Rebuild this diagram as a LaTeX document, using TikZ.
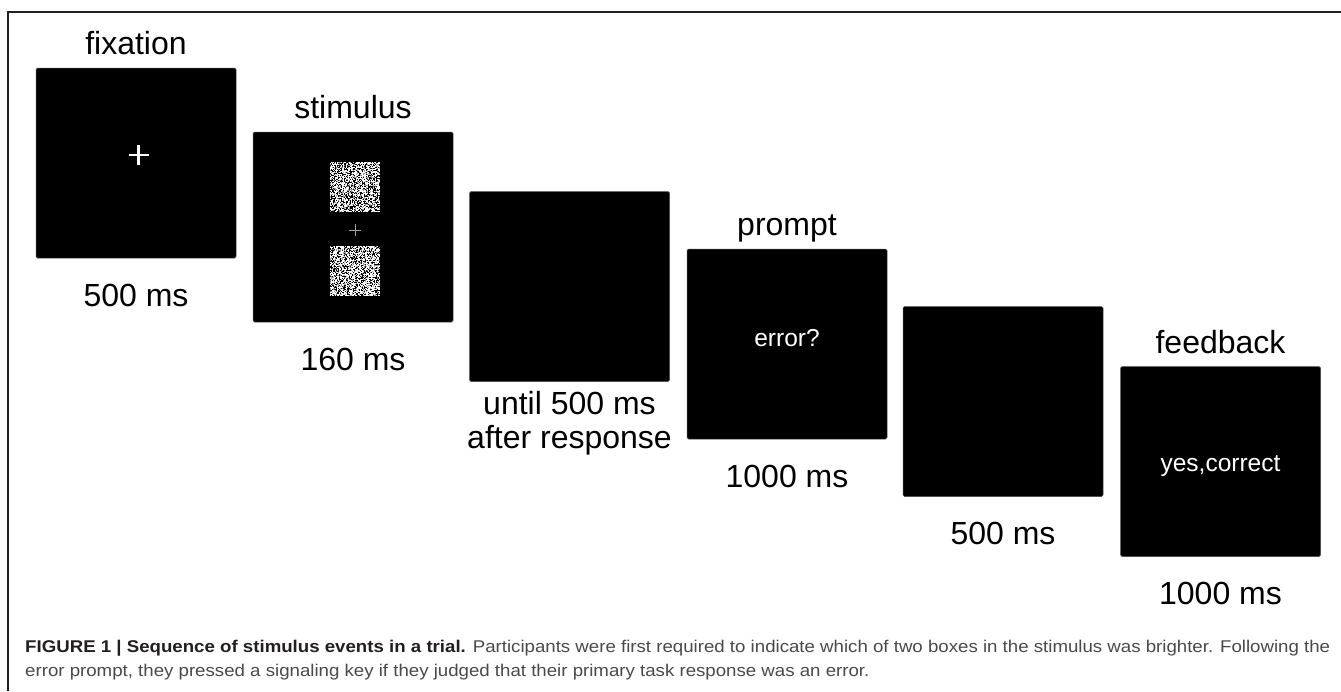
\documentclass[tikz,border=0pt]{standalone}
\usepackage{fontspec}
\setmainfont{Liberation Sans}
\usepackage{graphicx}
\definecolor{framec}{HTML}{231F20}
\definecolor{capc}{HTML}{4A4A4A}
\definecolor{capb}{HTML}{231F20}
\tikzset{
  screen/.style={fill=black, draw=black!70, line width=0.5pt, rounded corners=1.5pt,
    minimum width=200pt, minimum height=190pt, inner sep=0pt},
  ttl/.style={anchor=base, font=\fontsize{32}{34}\selectfont, inner sep=0pt},
  dur/.style={anchor=center, align=center, font=\fontsize{32}{34}\selectfont, inner sep=0pt},
  scrtext/.style={text=white, font=\fontsize{24.5}{28}\selectfont, inner sep=0pt, anchor=base},
  capline/.style={anchor=base west, inner sep=0pt, text=capc, font=\fontsize{17}{20}\selectfont},
}
\begin{document}
\begin{tikzpicture}[x=1pt,y=-1pt]
\useasboundingbox (0,0) rectangle (1341,691);
\fill[white] (0,0) rectangle (1341,691);
% frame
\draw[framec, line width=2pt] (8,691) -- (8,12) -- (1341,12);

% screens
\node[screen] (fix) at (136,163) {};
\node[screen] (stim) at (353,227) {};
\node[screen] (blank) at (569.5,286.5) {};
\node[screen] (prompt) at (787,344) {};
\node[screen] (blank2) at (1003,401.5) {};
\node[screen] (fb) at (1220.5,461.5) {};

% titles
\node[ttl] (tfix) at ([yshift=13pt]fix.north) {fixation};
\node[ttl] (tstim) at ([yshift=13pt]stim.north) {stimulus};
\node[ttl] (tprompt) at ([yshift=13pt]prompt.north) {prompt};
\node[ttl] (tfb) at ([yshift=13pt]fb.north) {feedback};

% durations
\node[dur] (dfix) at ([yshift=-37pt]fix.south) {500 ms};
\node[dur] (dstim) at ([yshift=-37pt]stim.south) {160 ms};
\node[dur] (dblank) at ([yshift=-41pt]blank.south) {until 500 ms\\after response};
\node[dur] (dprompt) at ([yshift=-37pt]prompt.south) {1000 ms};
\node[dur] (dblank2) at ([yshift=-37pt]blank2.south) {500 ms};
\node[dur] (dfb) at ([yshift=-37pt]fb.south) {1000 ms};

% fixation cross
\coordinate (fc) at (138.5,155);
\draw[white, line width=2.6pt] ([xshift=-10pt]fc) -- ([xshift=10pt]fc);
\draw[white, line width=2.6pt] ([yshift=-10pt]fc) -- ([yshift=10pt]fc);

% stimulus noise patches
\pgfmathsetseed{17}
\foreach \ox/\oy in {330/162, 330/246}{
  \foreach \i in {0,...,49}{
    \foreach \j in {0,...,49}{
      \pgfmathsetmacro\r{rnd}
      \ifdim\r pt<0.5pt
        \fill[white] ({\ox+\i},{\oy+\j}) rectangle ++(1.05,1.05);
      \else\ifdim\r pt<0.68pt
        \fill[black!40] ({\ox+\i},{\oy+\j}) rectangle ++(1.05,1.05);
      \fi\fi
    }
  }
}
\coordinate (sc) at (355,230);
\draw[black!35, line width=1pt] ([xshift=-6pt]sc) -- ([xshift=6pt]sc);
\draw[black!35, line width=1pt] ([yshift=-6pt]sc) -- ([yshift=6pt]sc);

% screen texts
\node[scrtext] (err) at (787,346) {error?};
\node[scrtext] (yes) at (1220.5,471) {yes,correct};

% caption
\node[capline] (cap1) at (25,652) {\setbox0\hbox{\textcolor{capb}{\bfseries FIGURE 1 | Sequence of stimulus events in a trial.} Participants were first required to indicate which of two boxes in the stimulus was brighter. Following the}\pgfmathsetmacro\capsx{1305/\wd0}\xdef\capsxg{\capsx}\scalebox{\capsx}[1]{\box0}};
\node[capline] (cap2) at (25,676) {\scalebox{\capsxg}[1]{error prompt, they pressed a signaling key if they judged that their primary task response was an error.}};
\end{tikzpicture}
\end{document}
